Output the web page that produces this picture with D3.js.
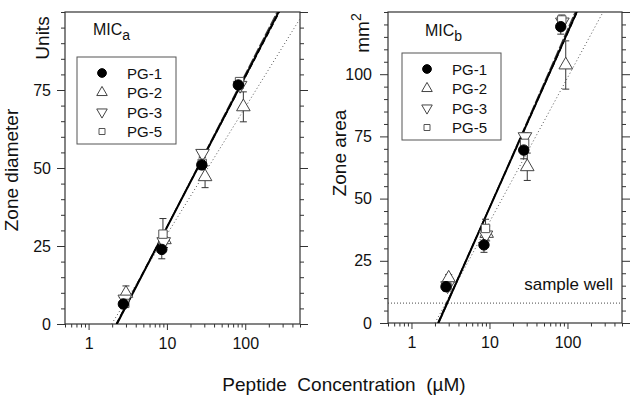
<!DOCTYPE html>
<html><head><meta charset="utf-8">
<script src="https://cdn.jsdelivr.net/npm/d3@7"></script>
<style>
body{margin:0;background:#fff;}
text{font-family:"Liberation Sans",Arial,sans-serif;fill:#111;}
</style></head>
<body><svg id="chart" width="637" height="403"></svg>
<script>
// ---------- data ----------
const seriesNames = ["PG-1","PG-2","PG-3","PG-5"];
const xTickLabels = [1,10,100];

// Left panel: zone diameter (Units)
const diamConc = [[2.78,8.6,27.9,81.6],[3.0,9.3,30.7,94.6],[2.9,9.1,28.5,86],[2.9,8.9,28.2,84.5]];
const diamVals = [[6.4,23.9,51.0,76.6],[9.8,27.0,47.2,69.6],[8.0,26.4,54.7,76.5],[6.6,28.8,51.5,77.7]];
const diamErr  = [[0.8,3.0,1.5,1.0],[2.4,2.5,3.5,4.8],[1.0,1.0,1.2,1.0],[1.0,5.0,2.0,1.1]];
const diamFitX0 = [2.29,1.97,2.25,2.32];
const diamFitSlope = [48.4,40.7,48.0,49.0];
const diamYTicks = [0,25,50,75];

// Right panel: zone area (mm2)
const areaConc = [[2.77,8.5,27.5,82],[3.0,9.2,30.5,95],[2.9,9.0,28.5,86],[2.85,8.9,28.2,84.5]];
const areaVals = [[14.6,31.4,69.5,119.1],[18.0,36.0,62.8,103.7],[15.0,35.4,74.9,121.0],[14.5,38.0,72.2,121.8]];
const areaErr  = [[1.5,3.0,3.5,3.0],[1.5,3.0,5.5,9.7],[1.0,2.0,1.5,2.0],[1.0,3.7,2.0,2.0]];
const areaFitX0 = [2.21,2.0,2.18,2.24];
const areaFitSlope = [70.5,58.0,70.0,71.5];
const areaYTicks = [0,25,50,75,100];
const sampleWell = 8;

// ---------- drawing ----------
const svg = d3.select("#chart");
const symTypes = [d3.symbolCircle, d3.symbolTriangle, d3.symbolTriangle, d3.symbolSquare];
const symRot = [0,0,180,0];
const symFill = ["#000","#fff","#fff","#fff"];
const symStroke = ["#000","#444","#444","#555"];
const lineStyle = [
  {w:2.0,c:"#000",d:null},
  {w:1.0,c:"#555",d:"1,2.5"},
  {w:1.3,c:"#000",d:"6,3"},
  {w:1.2,c:"#444",d:"10,2"}
];

function panel(cfg){
  const g = svg.append("g");
  const x = d3.scaleLog().domain([0.5,500]).range([cfg.x0,cfg.x1]);
  const y = d3.scaleLinear().domain([0,cfg.ymax]).range([cfg.y1,cfg.y0]);
  const clipId = "clip"+cfg.id;
  svg.append("clipPath").attr("id",clipId).append("rect")
    .attr("x",cfg.x0).attr("y",cfg.y0).attr("width",cfg.x1-cfg.x0).attr("height",cfg.y1-cfg.y0);

  // frame
  g.append("rect").attr("x",cfg.x0).attr("y",cfg.y0).attr("width",cfg.x1-cfg.x0).attr("height",cfg.y1-cfg.y0)
    .attr("fill","none").attr("stroke","#333").attr("stroke-width",1.2);

  // bottom axis
  const xa = g.append("g").attr("transform",`translate(0,${cfg.y1})`)
    .call(d3.axisBottom(x).tickValues(x.ticks()).tickSize(6).tickPadding(8)
      .tickFormat(d=>xTickLabels.includes(d)?d3.format("d")(d):""));
  xa.select(".domain").remove();
  xa.selectAll(".tick line").attr("stroke","#333").attr("y2",d=>xTickLabels.includes(d)?6:3.5);
  xa.selectAll("text").style("font-size","16px").attr("fill","#111");

  // left & right axes
  const yt = d3.range(0,cfg.ymax+0.1,5);
  const isMaj = d => cfg.yTicks.includes(d);
  const ya = g.append("g").attr("transform",`translate(${cfg.x0},0)`)
    .call(d3.axisLeft(y).tickValues(yt).tickSize(8).tickPadding(cfg.ypad)
      .tickFormat(d=>isMaj(d)?d:""));
  ya.select(".domain").remove();
  ya.selectAll(".tick line").attr("stroke","#333").attr("x2",d=>isMaj(d)?-8:-4);
  ya.selectAll("text").style("font-size","16px");
  const yr = g.append("g").attr("transform",`translate(${cfg.x1},0)`)
    .call(d3.axisRight(y).tickValues(yt).tickSize(8).tickFormat(""));
  yr.select(".domain").remove();
  yr.selectAll(".tick line").attr("stroke","#333").attr("x2",d=>(d%25===0)?8:4);

  const plot = g.append("g").attr("clip-path",`url(#${clipId})`);

  if(cfg.well!==undefined){
    plot.append("line").attr("x1",cfg.x0).attr("x2",cfg.x1).attr("y1",y(cfg.well)).attr("y2",y(cfg.well))
      .attr("stroke","#333").attr("stroke-width",0.9).attr("stroke-dasharray","1,2");
  }

  // fit lines
  const order = [1,3,2,0];
  order.forEach(i=>{
    const pts = [cfg.fitX0[i],500].map(c=>[c, cfg.fitSlope[i]*Math.log10(c/cfg.fitX0[i])]);
    plot.append("path").attr("d",d3.line().x(d=>x(d[0])).y(d=>y(d[1]))(pts))
      .attr("fill","none").attr("stroke",lineStyle[i].c).attr("stroke-width",lineStyle[i].w)
      .attr("stroke-dasharray",lineStyle[i].d);
  });

  // error bars and points
  [1,2,3,0].forEach(i=>{
    cfg.conc[i].forEach((c,j)=>{
      const v = cfg.vals[i][j], e = cfg.err[i][j];
      const cx = x(c);
      g.append("line").attr("x1",cx).attr("x2",cx).attr("y1",y(v-e)).attr("y2",y(v+e))
        .attr("stroke","#333").attr("stroke-width",1);
      [v-e,v+e].forEach(b=>g.append("line").attr("x1",cx-3.5).attr("x2",cx+3.5).attr("y1",y(b)).attr("y2",y(b))
        .attr("stroke","#333").attr("stroke-width",1));
    });
  });
  [1,2,3,0].forEach(i=>{
    cfg.conc[i].forEach((c,j)=>{
      g.append("path").attr("d",d3.symbol().type(symTypes[i]).size(i===0?85:(i===3?70:80))())
        .attr("transform",`translate(${x(c)},${y(cfg.vals[i][j])}) rotate(${symRot[i]})`)
        .attr("fill",symFill[i]).attr("stroke",symStroke[i]).attr("stroke-width",1);
    });
  });

  // panel title
  const t = g.append("text").attr("x",cfg.titleX).attr("y",cfg.titleY).style("font-size","16px");
  t.append("tspan").text("MIC");
  t.append("tspan").attr("dy",5).style("font-size","14px").text(cfg.sub);

  // legend
  g.append("rect").attr("x",cfg.lx).attr("y",cfg.ly).attr("width",99).attr("height",87)
    .attr("fill","#fff").attr("stroke","#555").attr("stroke-width",1);
  seriesNames.forEach((n,i)=>{
    const yy = cfg.ly+16+i*19.5;
    g.append("path").attr("d",d3.symbol().type(symTypes[i]).size(i===0?60:(i===3?36:48))())
      .attr("transform",`translate(${cfg.lx+25},${yy}) rotate(${symRot[i]})`)
      .attr("fill",symFill[i]).attr("stroke",symStroke[i]).attr("stroke-width",1);
    g.append("text").attr("x",cfg.lx+50).attr("y",yy+5.5).style("font-size","15px").text(n);
  });

  // y-axis titles
  g.append("text").attr("transform",`translate(${cfg.yTitleX},${cfg.yTitleY}) rotate(-90)`)
    .attr("text-anchor","middle").style("font-size","19px").text(cfg.yTitle);
  const u = g.append("text").attr("transform",`translate(${cfg.unitX},${cfg.unitY}) rotate(-90)`)
    .attr("text-anchor","middle").style("font-size","19px");
  u.append("tspan").text(cfg.unit);
  if(cfg.unitSup) u.append("tspan").attr("dy",-8).style("font-size","14px").text(cfg.unitSup);
  return {x,y};
}

panel({id:"a",x0:65,x1:300,y0:12,y1:324,ymax:100,yTicks:diamYTicks,ypad:6,
  conc:diamConc,vals:diamVals,err:diamErr,fitX0:diamFitX0,fitSlope:diamFitSlope,
  titleX:93,titleY:35,sub:"a",lx:77,ly:57,
  yTitle:"Zone diameter",yTitleX:18,yTitleY:170,unit:"Units",unitX:49,unitY:38});

const pr = panel({id:"b",x0:388,x1:622,y0:12,y1:323,ymax:125,yTicks:areaYTicks,ypad:8,
  conc:areaConc,vals:areaVals,err:areaErr,fitX0:areaFitX0,fitSlope:areaFitSlope,well:sampleWell,
  titleX:425,titleY:36,sub:"b",lx:402,ly:53,
  yTitle:"Zone area",yTitleX:346,yTitleY:153,unit:"mm",unitSup:"2",unitX:369,unitY:33});

svg.append("text").attr("x",613).attr("y",pr.y(sampleWell)-13).attr("text-anchor","end")
  .style("font-size","17px").text("sample well");

svg.append("text").attr("x",344).attr("y",391).attr("text-anchor","middle")
  .style("font-size","19px").attr("xml:space","preserve").style("white-space","pre")
  .text("Peptide  Concentration  (\u00b5M)");
</script></body></html>
